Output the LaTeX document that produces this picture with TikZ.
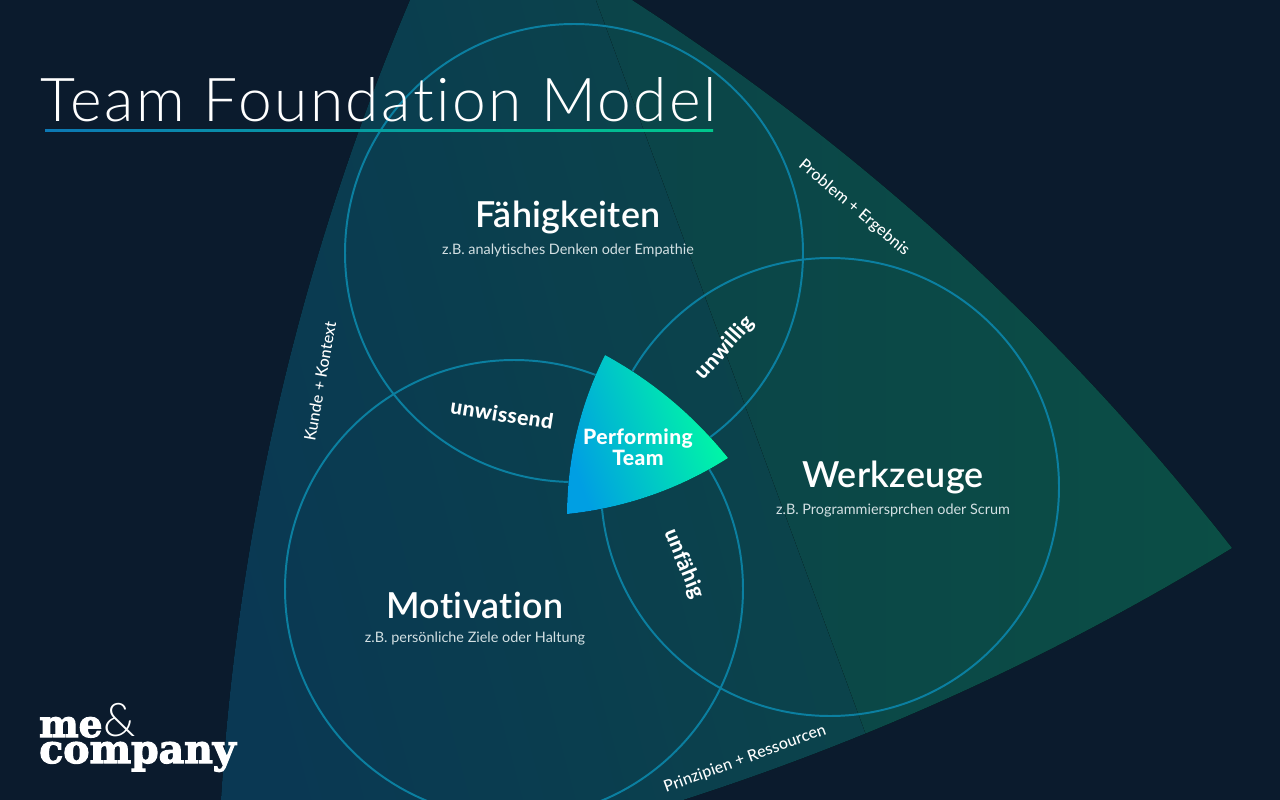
\documentclass[tikz,border=0pt]{standalone}
\usepackage{fontspec}
\usepackage{xcolor}
\usepackage{tikz}
\setmainfont{Lato}[Ligatures=NoCommon]
\newfontfamily\titlefont{Lato Light}[Ligatures=NoCommon,LetterSpace=4.2]
\newfontfamily\headfont{Lato Semibold}[Ligatures=NoCommon,LetterSpace=1]
\newfontfamily\labelfont{Lato Medium}[Ligatures=NoCommon,LetterSpace=1]
\newfontfamily\overfont{Lato Heavy}[Ligatures=NoCommon,LetterSpace=2]
\newfontfamily\logofont[FakeBold=3]{DejaVu Serif Bold}
\newfontfamily\ampfont{Lato Light}
\definecolor{night}{HTML}{0B1B2D}
\definecolor{ring}{HTML}{0B7FA0}
\definecolor{haze}{HTML}{D3E0E3}
\definecolor{blueA}{HTML}{0A3853}
\definecolor{blueB}{HTML}{0B4649}
\definecolor{greenA}{HTML}{0B4449}
\definecolor{greenB}{HTML}{0B4E45}
\definecolor{coreA}{HTML}{009FE3}
\definecolor{coreB}{HTML}{00FFA0}
\definecolor{lineA}{HTML}{0C78B4}
\definecolor{lineB}{HTML}{00C78C}

\begin{document}
\begin{tikzpicture}[
  x=0.025cm,y=-0.025cm,
  circ/.style={draw=ring,line width=1.4pt},
  head/.style={text=white,inner sep=0pt,font=\headfont\fontsize{25.5}{28}\selectfont},
  sub/.style={text=haze,inner sep=0pt,font=\fontsize{10.25}{12}\selectfont},
  over/.style={text=white,inner sep=0pt,font=\overfont\fontsize{15}{17}\selectfont},
  edge/.style={text=white,inner sep=0pt,font=\labelfont\fontsize{11.4}{13}\selectfont},
  core/.style={text=white,inner sep=0pt,align=center,font=\overfont\fontsize{15}{15}\selectfont}
]
\useasboundingbox (0,0) rectangle (1280,800);
\fill[night] (0,0) rectangle (1280,800);
% large sector
\begin{scope}
  \clip (410,0) -- (632,0) .. controls (862.5,149.2) and (1062.5,331.8) .. (1232,548)
    .. controls (1059,653.8) and (876,737.8) .. (683,800) -- (221,800)
    .. controls (238.6,522.6) and (301.6,256) .. (410,0) -- cycle;
  \fill[left color=blueA,right color=blueB,shading angle=105] (200,0) -- (602,0) -- (896,800) -- (200,800) -- cycle;
  \fill[left color=greenA,right color=greenB,shading angle=90] (596,0) -- (1240,0) -- (1240,800) -- (890,800) -- cycle;
\end{scope}
% circles
\draw[circ] (574,253) circle[radius=229];
\draw[circ] (830,487) circle[radius=229];
\draw[circ] (514,589) circle[radius=229];
% centre
\fill[left color=coreA,right color=coreB,shading angle=110] (605,355)
  .. controls (652.8,381.1) and (693.8,415.5) .. (728,458)
  .. controls (678.7,489.3) and (625.1,507.9) .. (567,514)
  .. controls (567.4,458) and (580,405) .. (605,355) -- cycle;
\node[core] (perf) at (638,447) {Performing\\[0pt]Team};
% title
\node[anchor=base west,inner sep=0pt,text=white,font=\titlefont\fontsize{43}{48}\selectfont] (title) at (40,122) {Team Foundation Model};
\fill[left color=lineA,right color=lineB] (45,130) rectangle (713,132);
% circle labels
\node[head] (faehig) at (568,217) {Fähigkeiten};
\node[sub]  (faehigsub) at (568,250) {z.B. analytisches Denken oder Empathie};
\node[head] (werk) at (893,477) {Werkzeuge};
\node[sub]  (werksub) at (893,511) {z.B. Programmiersprchen oder Scrum};
\node[head] (motiv) at (475,605) {Motivation};
\node[sub]  (motivsub) at (475,639) {z.B. persönliche Ziele oder Haltung};
% overlaps
\node[over,rotate=-9]  (unwissend) at (502,414) {unwissend};
\node[over,rotate=48]  (unwillig) at (725,348) {unwillig};
\node[over,rotate=-68] (unfaehig) at (684,564) {unfähig};
% sector edges
\node[edge,rotate=80]  (kunde) at (320,381) {Kunde + Kontext};
\node[edge,rotate=-40] (problem) at (854,208) {Problem + Ergebnis};
\node[edge,rotate=20]  (prinzip) at (745,759) {Prinzipien + Ressourcen};
% logo
\node[anchor=base west,inner sep=0pt,text=white,font=\logofont\fontsize{26.5}{28}\selectfont] (me) at (39,737) {me};
\node[anchor=base west,inner sep=0pt,text=white,font=\ampfont\fontsize{33}{36}\selectfont] (amp) at (103,736) {\&};
\node[anchor=base west,inner sep=0pt,text=white,font=\logofont\fontsize{28}{28}\selectfont] (company) at (39,763) {company};
\end{tikzpicture}
\end{document}
